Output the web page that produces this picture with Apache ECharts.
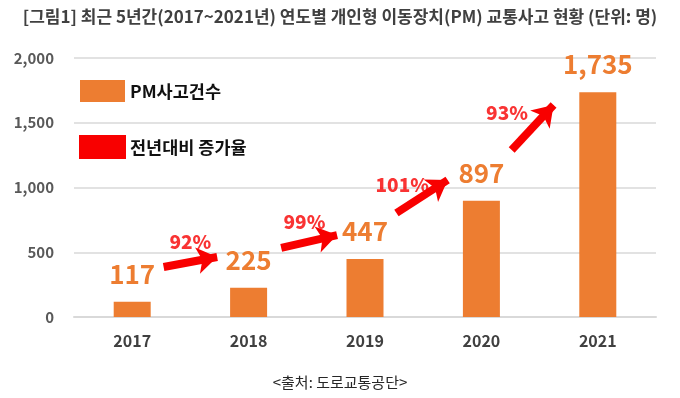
<!DOCTYPE html>
<html>
<head>
<meta charset="utf-8">
<script src="https://cdn.jsdelivr.net/npm/echarts@6/dist/echarts.min.js"></script>
<style>
html, body { margin: 0; padding: 0; background: #fff; }
#chart { width: 680px; height: 398px; }
</style>
</head>
<body>
<div id="chart"></div>
<script>
const years = ['2017', '2018', '2019', '2020', '2021'];
const accidents = [117, 225, 447, 897, 1735];
const growthLabels = ['92%', '99%', '101%', '93%'];
// arrows drawn in data units: [categoryIndex, value] start -> end
const arrowFrom = [[0.27, 386], [1.28, 533], [2.27, 803], [3.26, 1290]];
const arrowTo = [[0.73, 463], [1.76, 633], [2.71, 1058], [3.62, 1637]];
const growthPos = [[0.50, 579], [1.48, 734], [2.32, 1019], [3.22, 1575]];

const FONT = '"Noto Sans CJK KR", "Noto Sans", sans-serif';
const ORANGE = '#ED7D31';
const RED = '#F80000';

const chart = echarts.init(document.getElementById('chart'));
chart.setOption({
    animation: false,
    textStyle: { fontFamily: FONT },
    title: [{
        text: '[그림1] 최근 5년간(2017~2021년) 연도별 개인형 이동장치(PM) 교통사고 현황 (단위: 명)',
        left: 'center',
        top: 3,
        textStyle: { fontSize: 17, fontWeight: 'bold', color: '#404040', fontFamily: FONT }
    }, {
        text: '<출처: 도로교통공단>',
        left: 'center',
        top: 370,
        textStyle: { fontSize: 15, fontWeight: 'normal', color: '#262626', fontFamily: FONT }
    }],
    legend: {
        orient: 'vertical',
        left: 79,
        top: 80,
        padding: 0,
        itemWidth: 45,
        itemHeight: 22,
        itemGap: 33,
        textStyle: { fontSize: 17.5, fontWeight: 'bold', color: '#111', fontFamily: FONT },
        data: [
            { name: 'PM사고건수', icon: 'rect', itemStyle: { color: ORANGE } },
            { name: '전년대비 증가율', icon: 'rect', itemStyle: { color: RED } }
        ]
    },
    grid: { left: 74, right: 24, top: 58, bottom: 81 },
    xAxis: [{
        type: 'category',
        data: years,
        axisTick: { show: false },
        axisLine: { lineStyle: { color: '#d9d9d9', width: 2 } },
        axisLabel: { fontSize: 16, fontWeight: 'bold', color: '#404040', margin: 16, fontFamily: FONT }
    }, {
        type: 'value',
        min: -0.5,
        max: 4.5,
        show: false
    }],
    yAxis: {
        type: 'value',
        min: 0,
        max: 2000,
        interval: 500,
        axisLine: { show: false },
        axisTick: { show: false },
        splitLine: { lineStyle: { color: '#d9d9d9', width: 1.5 } },
        axisLabel: {
            fontSize: 15, fontWeight: 'bold', color: '#595959', margin: 20, fontFamily: FONT,
            formatter: v => v.toLocaleString('en-US')
        }
    },
    series: [{
        name: 'PM사고건수',
        type: 'bar',
        data: accidents,
        barWidth: 37,
        itemStyle: { color: ORANGE },
        label: {
            show: true,
            position: 'top',
            distance: 15,
            fontSize: 26,
            fontWeight: 'bold',
            color: ORANGE,
            fontFamily: FONT,
            formatter: p => p.value.toLocaleString('en-US')
        }
    }, {
        name: '전년대비 증가율',
        type: 'lines',
        coordinateSystem: 'cartesian2d',
        xAxisIndex: 1,
        symbol: ['none', 'arrow'],
        symbolSize: 20,
        lineStyle: { color: RED, width: 8, opacity: 1, curveness: 0 },
        data: arrowFrom.map((p, i) => ({ coords: [p, arrowTo[i]] }))
    }, {
        name: 'growth',
        type: 'scatter',
        xAxisIndex: 1,
        symbolSize: 0,
        silent: true,
        data: growthPos.map((p, i) => ({ value: p, name: growthLabels[i] })),
        label: {
            show: true,
            position: 'inside',
            formatter: p => p.name,
            fontSize: 19,
            fontWeight: 900,
            color: RED,
            fontFamily: FONT
        }
    }]
});
</script>
</body>
</html>
